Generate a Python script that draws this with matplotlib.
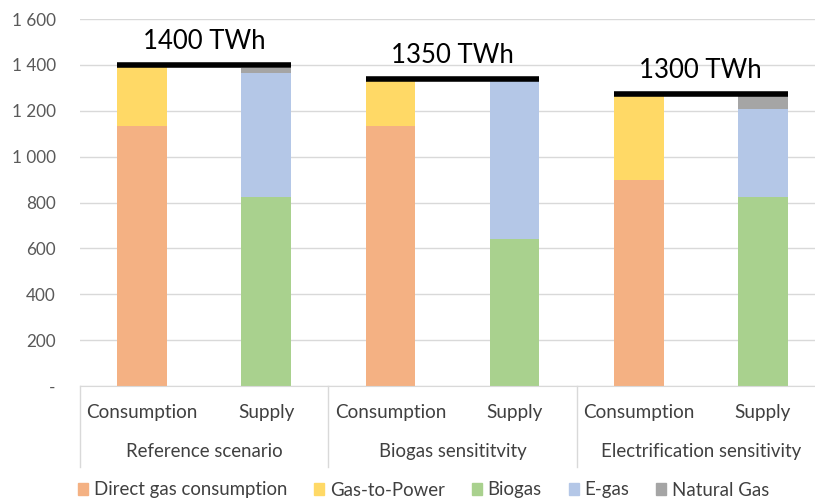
import numpy as np
import matplotlib.pyplot as plt
from matplotlib.patches import Patch

plt.rcParams['font.family'] = ['Lato', 'DejaVu Sans']

# ============================
# Data (TWh)
# ============================
groups = ["Reference scenario", "Biogas sensititvity", "Electrification sensitivity"]
sublabels = ["Consumption", "Supply"]
totals = [1400, 1350, 1300]
total_lines = [1398, 1340, 1275]

direct_gas = [1135, 0, 1135, 0, 900, 0]
gas_to_power = [255, 0, 195, 0, 372, 0]
biogas = [0, 825, 0, 640, 0, 825]
e_gas = [0, 538, 0, 690, 0, 382]
natural_gas = [0, 25, 0, 0, 0, 62]

series = [
    ("Direct gas consumption", direct_gas, "#F4B183"),
    ("Gas-to-Power", gas_to_power, "#FFD966"),
    ("Biogas", biogas, "#A9D18E"),
    ("E-gas", e_gas, "#B4C7E7"),
    ("Natural Gas", natural_gas, "#A5A5A5"),
]

yticks = [0, 200, 400, 600, 800, 1000, 1200, 1400, 1600]
ytick_labels = ["-", "200", "400", "600", "800", "1 000", "1 200", "1 400", "1 600"]

# ============================
# Figure
# ============================
W, H = 815, 499
fig = plt.figure(figsize=(W / 100, H / 100), dpi=100)
ax = fig.add_axes([80 / W, (H - 386) / H, 745 / W, (386 - 19) / H])

x = np.arange(6)
bw = 0.4
bottom = np.zeros(6)
for name, vals, col in series:
    vals = np.array(vals, dtype=float)
    ax.bar(x, vals, bw, bottom=bottom, color=col, label=name, zorder=2)
    bottom += vals

# total lines + labels
for g in range(3):
    x0 = 2 * g - bw / 2
    x1 = 2 * g + 1 + bw / 2
    ax.plot([x0, x1], [total_lines[g], total_lines[g]], color="black", lw=4,
            solid_capstyle="butt", zorder=3)
    ax.text((x0 + x1) / 2, total_lines[g] + 102, f"{totals[g]} TWh",
            ha="center", va="center", fontsize=18.5, color="black")

ax.set_xlim(-0.5, 5.5)
ax.set_ylim(0, 1600)
ax.set_yticks(yticks)
ax.set_yticklabels(ytick_labels, color="#595959", fontsize=12.3)
ax.tick_params(axis="y", length=0, pad=17.5)
ax.set_xticks([])
ax.grid(axis="y", color="#D9D9D9", lw=1, zorder=0)
ax.set_axisbelow(True)
for s in ["top", "right", "left"]:
    ax.spines[s].set_visible(False)
ax.spines["bottom"].set_color("#D9D9D9")

# multi-level category axis
tr = ax.get_xaxis_transform()
for i in range(6):
    ax.text(i, -0.072, sublabels[i % 2], transform=tr, ha="center", va="center",
            fontsize=13.6, color="#404040")
for g in range(3):
    ax.text(2 * g + 0.5, -0.179, groups[g], transform=tr, ha="center", va="center",
            fontsize=13.4, color="#404040")
for b in [-0.5, 1.5, 3.5]:
    ax.plot([b, b], [0, -0.22], transform=tr, color="#D9D9D9", lw=1, clip_on=False)

# legend
handles = [Patch(color=col, label=name) for name, _, col in series]
fig.legend(handles=handles, loc="center left", bbox_to_anchor=(61 / W, 1 - 490 / H),
           ncol=5, frameon=False, fontsize=13.4, handlelength=0.55, handleheight=0.55,
           handletextpad=0.3, columnspacing=1.45, labelcolor="#404040")

fig.savefig("out.png", dpi=100)
